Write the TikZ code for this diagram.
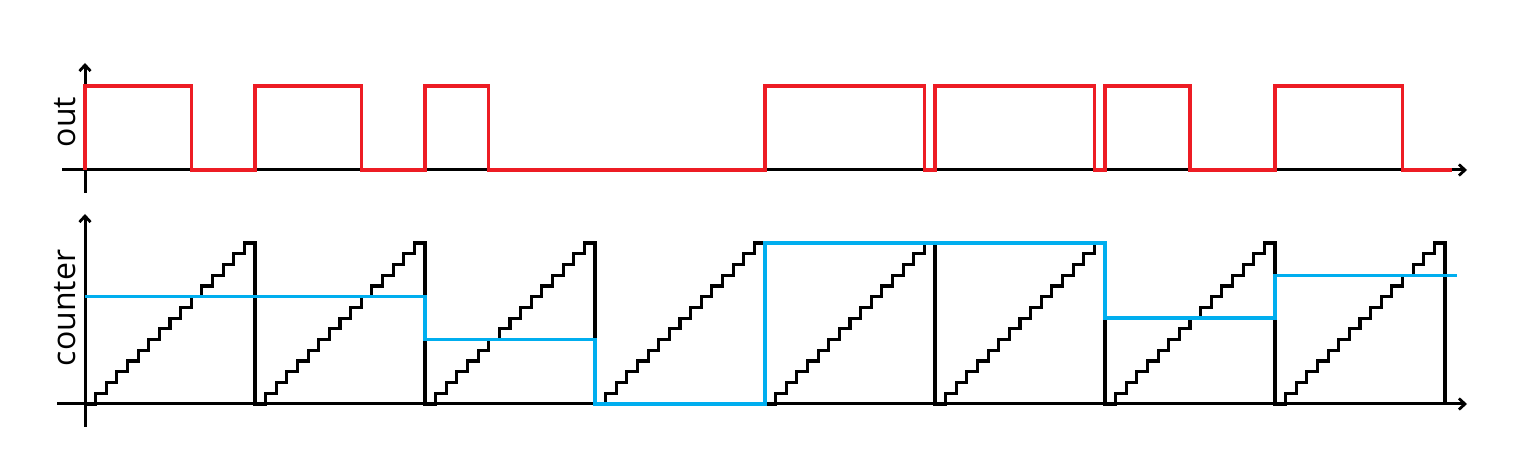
\documentclass[tikz,border=0pt]{standalone}
\usepackage{fontspec}
\setmainfont{Open Sans}
\usetikzlibrary{arrows.meta}
\definecolor{pwmred}{HTML}{ED1C24}
\definecolor{cmpblue}{HTML}{00AEEF}
\begin{document}
\begin{tikzpicture}[x=1pt,y=1pt,
  axis/.style={line width=3pt,black,-{Straight Barb[length=6pt,width=11pt,line width=2.8pt]}},
  stair/.style={line width=3.2pt,black,line join=miter},
  outline/.style={line width=3.3pt,pwmred,line join=miter},
  cmpline/.style={line width=3.3pt,cmpblue,line join=miter},
  lbl/.style={font=\fontsize{32}{38}\selectfont,rotate=90,anchor=base,inner sep=0pt}]
\useasboundingbox (0,0) rectangle (1531,468);
\def\w{10.625}
\def\h{10.733}
% counter axes
\draw[axis] (57,64) -- (1467,64);
\draw[axis] (85,41) -- (85,254);
% out axes
\draw[axis] (62,298) -- (1467,298);
\draw[axis] (85,275) -- (85,405);
% staircases (one continuous sawtooth)
\draw[stair] (85,64) \foreach \p in {0,...,7}{
  \foreach \k in {1,...,15}{ -- ++(\w,0) -- ++(0,\h) } -- ++(\w,0) -- ++(0,-15*\h) };
% compare value
\draw[cmpline] (85,{64+10*\h}) -- (425,{64+10*\h}) -- (425,{64+6*\h}) -- (595,{64+6*\h})
  -- (595,64) -- (765,64) -- (765,{64+15*\h}) -- (1105,{64+15*\h}) -- (1105,{64+8*\h})
  -- (1275,{64+8*\h}) -- (1275,{64+12*\h}) -- (1457,{64+12*\h});
% out signal
\draw[outline] (85,298) -- (85,382) -- (191.25,382) -- (191.25,298) -- (255,298) -- (255,382)
  -- (361.25,382) -- (361.25,298) -- (425,298) -- (425,382) -- (488.75,382) -- (488.75,298)
  -- (765,298) -- (765,382) -- (924.4,382) -- (924.4,298) -- (935,298) -- (935,382)
  -- (1094.4,382) -- (1094.4,298) -- (1105,298) -- (1105,382) -- (1190,382) -- (1190,298)
  -- (1275,298) -- (1275,382) -- (1402.5,382) -- (1402.5,298) -- (1452,298);
% labels
\node[lbl] (outlbl) at (75,346) {out};
\node[lbl] (cntlbl) at (75,160) {counter};
\end{tikzpicture}
\end{document}
